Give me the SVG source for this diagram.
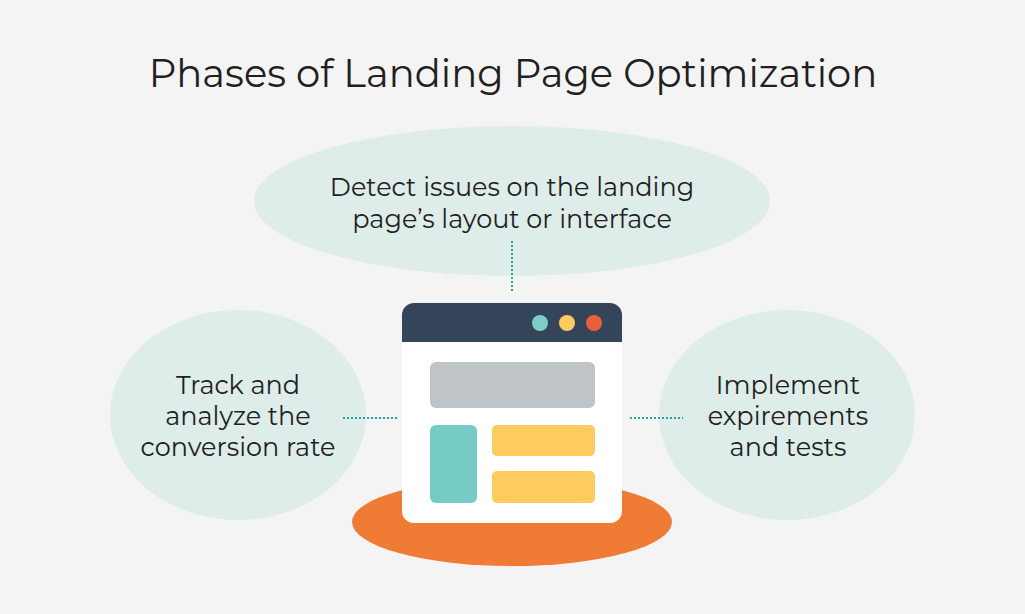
<svg xmlns="http://www.w3.org/2000/svg" width="1025" height="614" viewBox="0 0 1025 614">
<style>
.t{font-family:"Montserrat","Lato","Liberation Sans",sans-serif;fill:#231f20;text-anchor:middle}
.b{fill:#deecea}
.c{stroke:#2aa39a;stroke-width:2;stroke-dasharray:2 2;fill:none}
</style>
<rect width="1025" height="614" fill="#f4f4f4"/>
<text class="t" x="513" y="87" font-size="38.5">Phases of Landing Page Optimization</text>
<g id="top"><ellipse class="b" cx="512" cy="201" rx="258" ry="75"/>
<text class="t" x="512" y="196" font-size="25.5">Detect issues on the landing</text>
<text class="t" x="512" y="228" font-size="25.5">page’s layout or interface</text></g>
<g id="left"><ellipse class="b" cx="238" cy="415" rx="128" ry="105"/>
<text class="t" x="238" y="394" font-size="25.5">Track and</text>
<text class="t" x="238" y="425" font-size="25.5">analyze the</text>
<text class="t" x="238" y="456" font-size="25.5">conversion rate</text></g>
<g id="right"><ellipse class="b" cx="787" cy="415" rx="128" ry="105"/>
<text class="t" x="788" y="394" font-size="25.5">Implement</text>
<text class="t" x="788" y="425" font-size="25.5">expirements</text>
<text class="t" x="788" y="456" font-size="25.5">and tests</text></g>
<g id="center">
<ellipse cx="512" cy="522" rx="160" ry="44" fill="#f07b35"/>
<rect x="402" y="303" width="220" height="220" rx="12" fill="#fff"/>
<path d="M402 342V315a12 12 0 0 1 12-12h196a12 12 0 0 1 12 12v27z" fill="#344459"/>
<circle cx="540" cy="323" r="8" fill="#7ecdc6"/>
<circle cx="567" cy="323" r="8" fill="#fccb5e"/>
<circle cx="594" cy="323" r="8" fill="#e8603c"/>
<rect x="430" y="362" width="165" height="46" rx="6" fill="#bfc4c8"/>
<rect x="430" y="425" width="47" height="78" rx="6" fill="#76cbc4"/>
<rect x="492" y="425" width="103" height="31" rx="5" fill="#fecb5f"/>
<rect x="492" y="471" width="103" height="32" rx="5" fill="#fecb5f"/>
</g>
<g id="connectors">
<line class="c" x1="512" y1="241" x2="512" y2="293"/>
<line class="c" x1="343" y1="418" x2="397" y2="418"/>
<line class="c" x1="630" y1="418" x2="683" y2="418"/>
</g>
</svg>
